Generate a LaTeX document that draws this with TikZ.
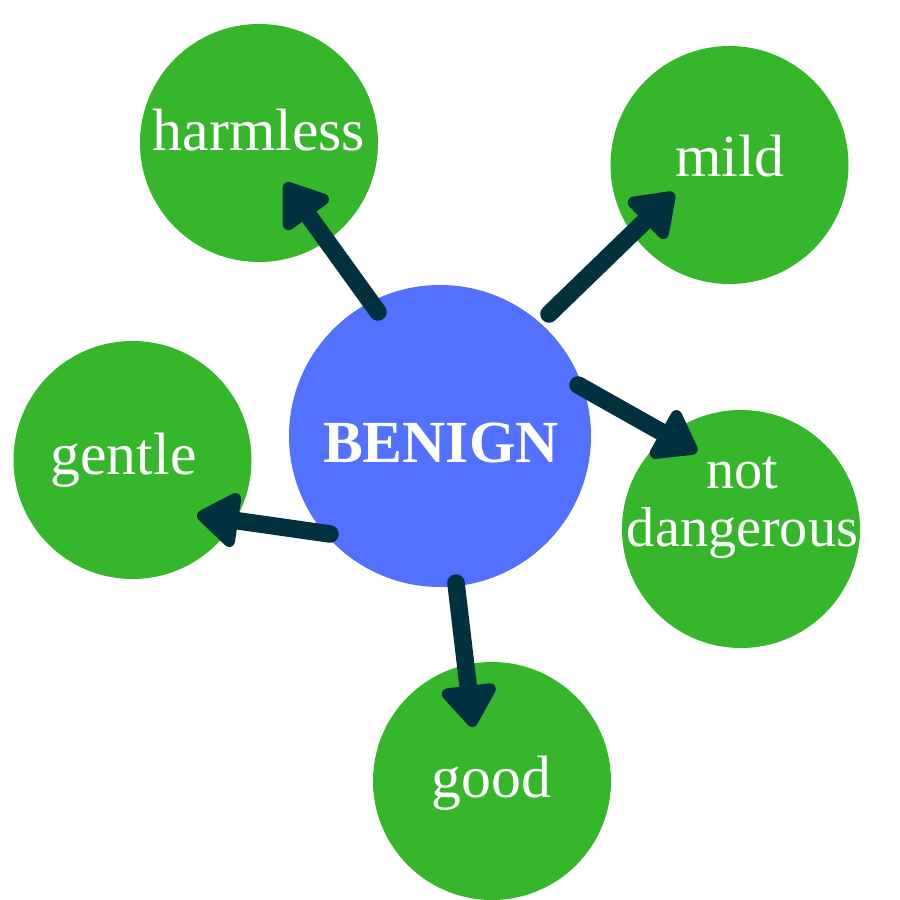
\documentclass[tikz,border=0pt]{standalone}
\usepackage{fontspec}
\setmainfont{Liberation Serif}
\usetikzlibrary{arrows.meta}
\definecolor{leafgreen}{HTML}{35B62B}
\definecolor{coreblue}{HTML}{5271FF}
\definecolor{inkblue}{HTML}{01303F}

\begin{document}
\begin{tikzpicture}[
    word/.style={circle,fill=leafgreen,minimum size=2.38cm,inner sep=0pt},
    wordtext/.style={anchor=base,text=white,align=center,inner sep=0pt,
        font=\fontsize{17}{16.5}\selectfont},
    link/.style={inkblue,line width=5pt,line cap=round,
        -{Triangle[length=0.46cm,width=0.62cm,round]}}
]
    \useasboundingbox (0,0) rectangle (9,9);
    % centre
    \node[circle,fill=coreblue,minimum size=3.02cm,inner sep=0pt] (benign) at (4.40,4.64) {};
    \node[wordtext,font=\bfseries\fontsize{17}{17}\selectfont] (benigntext) at (4.41,4.37) {BENIGN};
    % synonyms
    \node[word] (harmless) at (2.59,7.57) {};
    \node[word] (mild) at (7.295,7.35) {};
    \node[word] (gentle) at (1.325,4.40) {};
    \node[word] (notdanger) at (7.41,3.71) {};
    \node[word] (good) at (4.92,1.19) {};
    \node[wordtext] (harmlesstext) at (2.59,7.49) {harmless};
    \node[wordtext] (mildtext) at (7.30,7.23) {mild};
    \node[wordtext] (gentletext) at (1.235,4.25) {gentle};
    \node[wordtext,font=\fontsize{16}{16.5}\selectfont] (notdangertext) at (7.425,3.54) {not\\dangerous};
    \node[wordtext] (goodtext) at (4.915,1.03) {good};
    % arrow ends
    \coordinate (harmlessfrom) at (3.78,5.88);
    \coordinate (harmlessto) at (2.85,7.17);
    \coordinate (mildfrom) at (5.49,5.86);
    \coordinate (mildto) at (6.74,7.07);
    \coordinate (notdangerfrom) at (5.78,5.15);
    \coordinate (notdangerto) at (6.97,4.48);
    \coordinate (gentlefrom) at (3.30,3.66);
    \coordinate (gentleto) at (1.97,3.85);
    \coordinate (goodfrom) at (4.56,3.17);
    \coordinate (goodto) at (4.73,1.73);
    \foreach \w in {harmless,mild,notdanger,gentle,good}
        \draw[link] (\w from) -- (\w to);
\end{tikzpicture}
\end{document}
